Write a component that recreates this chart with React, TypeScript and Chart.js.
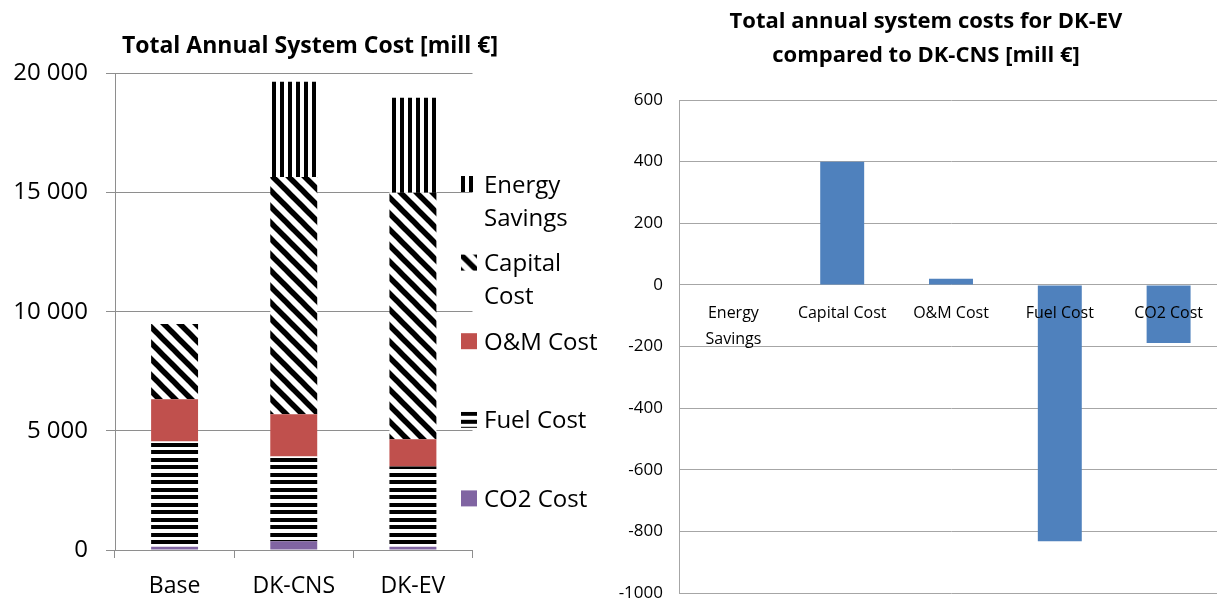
import React, { useEffect, useRef } from 'react';
import { Chart, registerables } from 'chart.js';

Chart.register(...registerables);

const FONT = "'Open Sans', 'DejaVu Sans', sans-serif";

// ---- Left chart data ----
const scenarios = ['Base', 'DK-CNS', 'DK-EV'];
const co2Cost = [140, 370, 140];
const fuelCost = [4410, 3550, 3360];
const omCost = [1780, 1780, 1150];
const capitalCost = [3160, 9960, 10340];
const energySavings = [0, 3990, 3990];
const leftTitle = 'Total Annual System Cost [mill €]';
const leftSeriesNames = ['CO2 Cost', 'Fuel Cost', 'O&M Cost', 'Capital Cost', 'Energy Savings'];

// ---- Right chart data ----
const diffCategories = [['Energy', 'Savings'], 'Capital Cost', 'O&M Cost', 'Fuel Cost', 'CO2 Cost'];
const diffValues = [0, 400, 20, -832, -189];
const rightTitle = ['Total annual system costs for DK-EV', 'compared to DK-CNS [mill €]'];

const RED = '#C0504D';
const PURPLE = '#8064A2';
const BLUE = '#4F81BD';
const GRID_L = '#8e8e8e';
const GRID_R = '#a6a6a6';

const RIGHT_LEFT = 605;

function makeTile(w: number, h: number, draw: (c: CanvasRenderingContext2D) => void) {
  const cv = document.createElement('canvas');
  cv.width = w;
  cv.height = h;
  const c = cv.getContext('2d')!;
  c.fillStyle = '#fff';
  c.fillRect(0, 0, w, h);
  c.fillStyle = '#000';
  c.strokeStyle = '#000';
  draw(c);
  return c.createPattern(cv, 'repeat')!;
}

function verticalStripes() {
  return makeTile(8, 8, (c) => c.fillRect(0, 0, 4, 8));
}
function horizontalStripes() {
  return makeTile(8, 15, (c) => {
    c.fillRect(0, 0, 8, 4);
    c.fillRect(0, 8, 8, 4);
  });
}
function diagonalStripes() {
  return makeTile(16, 16, (c) => {
    c.lineWidth = 5.5;
    for (let k = -1; k <= 1; k++) {
      c.beginPath();
      c.moveTo(-4, -4 + k * 16);
      c.lineTo(20, 20 + k * 16);
      c.stroke();
    }
  });
}

function fmtThousands(v: number) {
  const s = String(Math.round(Math.abs(v))).replace(/\B(?=(\d{3})+(?!\d))/g, ' ');
  return (v < 0 ? '-' : '') + s;
}

const leftDecor = {
  id: 'leftDecor',
  afterDraw(chart: any) {
    const ctx: CanvasRenderingContext2D = chart.ctx;
    ctx.save();
    ctx.fillStyle = '#000';
    ctx.font = `bold 23px ${FONT}`;
    ctx.textAlign = 'center';
    ctx.textBaseline = 'alphabetic';
    ctx.fillText(leftTitle, 310, 53);

    // legend (reverse order, top = last dataset)
    const items = chart.data.datasets.slice().reverse();
    const markerX = 461;
    const textX = 484;
    const size = 16;
    const firstY = 184;
    const step = 78.6;
    const lineH = 33;
    ctx.font = `24px ${FONT}`;
    ctx.textAlign = 'left';
    items.forEach((ds: any, i: number) => {
      const cy = firstY + i * step;
      ctx.save();
      ctx.translate(markerX, cy - size / 2);
      ctx.fillStyle = ds.backgroundColor;
      ctx.fillRect(0, 0, size, size);
      ctx.restore();
      const words = String(ds.label).split(' ');
      const lines: string[] = [];
      let cur = '';
      words.forEach((w) => {
        const t = cur ? cur + ' ' + w : w;
        if (cur && ctx.measureText(t).width > 122) {
          lines.push(cur);
          cur = w;
        } else cur = t;
      });
      if (cur) lines.push(cur);
      ctx.fillStyle = '#000';
      lines.forEach((ln, j) => ctx.fillText(ln, textX, cy + 8.5 + j * lineH));
    });
    ctx.restore();
  },
};

const rightDecor = {
  id: 'rightDecor',
  afterDraw(chart: any) {
    const ctx: CanvasRenderingContext2D = chart.ctx;
    ctx.save();
    ctx.fillStyle = '#000';
    ctx.font = `bold 22px ${FONT}`;
    ctx.textAlign = 'center';
    ctx.textBaseline = 'alphabetic';
    rightTitle.forEach((t, i) => ctx.fillText(t, 926 - RIGHT_LEFT, 28 + i * 34));
    ctx.restore();
  },
};

export default function App() {
  const leftRef = useRef<HTMLCanvasElement>(null);
  const rightRef = useRef<HTMLCanvasElement>(null);

  useEffect(() => {
    const fills = [PURPLE, horizontalStripes(), RED, diagonalStripes(), verticalStripes()];
    const series = [co2Cost, fuelCost, omCost, capitalCost, energySavings];
    const left = new Chart(leftRef.current!, {
      type: 'bar',
      data: {
        labels: scenarios,
        datasets: series.map((d, i) => ({
          label: leftSeriesNames[i],
          data: d,
          backgroundColor: fills[i] as any,
          borderWidth: 0,
          categoryPercentage: 1,
          barPercentage: 0.394,
        })),
      },
      options: {
        animation: false,
        responsive: false,
        maintainAspectRatio: false,
        layout: { padding: { left: 0, right: 137.5, top: 73.5, bottom: 0 } },
        plugins: { legend: { display: false }, title: { display: false }, tooltip: { enabled: false } },
        scales: {
          x: {
            stacked: true,
            grid: { display: true, drawOnChartArea: false, drawTicks: true, tickLength: 8, color: GRID_L, offset: true },
            border: { color: GRID_L },
            ticks: { font: { family: FONT, size: 23 }, color: '#000', padding: 15 },
            afterFit: (s: any) => { s.height = 51; },
          },
          y: {
            stacked: true,
            min: 0,
            max: 20000,
            ticks: {
              stepSize: 5000,
              font: { family: FONT, size: 24 },
              color: '#000',
              padding: 18,
              callback: (v: any) => fmtThousands(Number(v)),
            },
            grid: { color: GRID_L, tickLength: 9 },
            border: { color: GRID_L },
            afterFit: (s: any) => { s.width = 115; },
          },
        },
      },
      plugins: [leftDecor],
    });

    const right = new Chart(rightRef.current!, {
      type: 'bar',
      data: {
        labels: diffCategories as any,
        datasets: [
          {
            label: 'DK-EV vs DK-CNS',
            data: diffValues,
            backgroundColor: BLUE,
            borderWidth: 0,
            categoryPercentage: 1,
            barPercentage: 0.404,
          },
        ],
      },
      options: {
        animation: false,
        responsive: false,
        maintainAspectRatio: false,
        layout: { padding: { left: 0, right: 7, top: 100, bottom: 32 } },
        plugins: {
          legend: { display: false },
          tooltip: { enabled: false },
          title: { display: false },
        },
        scales: {
          x: {
            position: { y: 0 } as any,
            grid: { display: false, drawTicks: false },
            border: { display: false },
            ticks: {
              z: 1,
              font: { family: FONT, size: 16, lineHeight: 26 / 16 },
              color: '#000',
              padding: 16,
              maxRotation: 0,
              autoSkip: false,
            },
          },
          y: {
            min: -1000,
            max: 600,
            ticks: {
              stepSize: 200,
              font: { family: FONT, size: 17 },
              color: '#000',
              padding: 16,
              callback: (v: any) => String(v),
            },
            grid: { color: GRID_R, drawTicks: false },
            border: { color: GRID_R },
            afterFit: (s: any) => { s.width = 74; },
          },
        },
      },
      plugins: [rightDecor],
    });

    return () => {
      left.destroy();
      right.destroy();
    };
  }, []);

  return (
    <div style={{ position: 'fixed', left: 0, top: 0, width: 1217, height: 601, overflow: 'hidden', background: '#fff' }}>
      <canvas ref={leftRef} width={610} height={601} style={{ position: 'absolute', left: 0, top: 0, width: 610, height: 601 }} />
      <canvas ref={rightRef} width={625} height={625} style={{ position: 'absolute', left: RIGHT_LEFT, top: 0, width: 625, height: 625 }} />
    </div>
  );
}
